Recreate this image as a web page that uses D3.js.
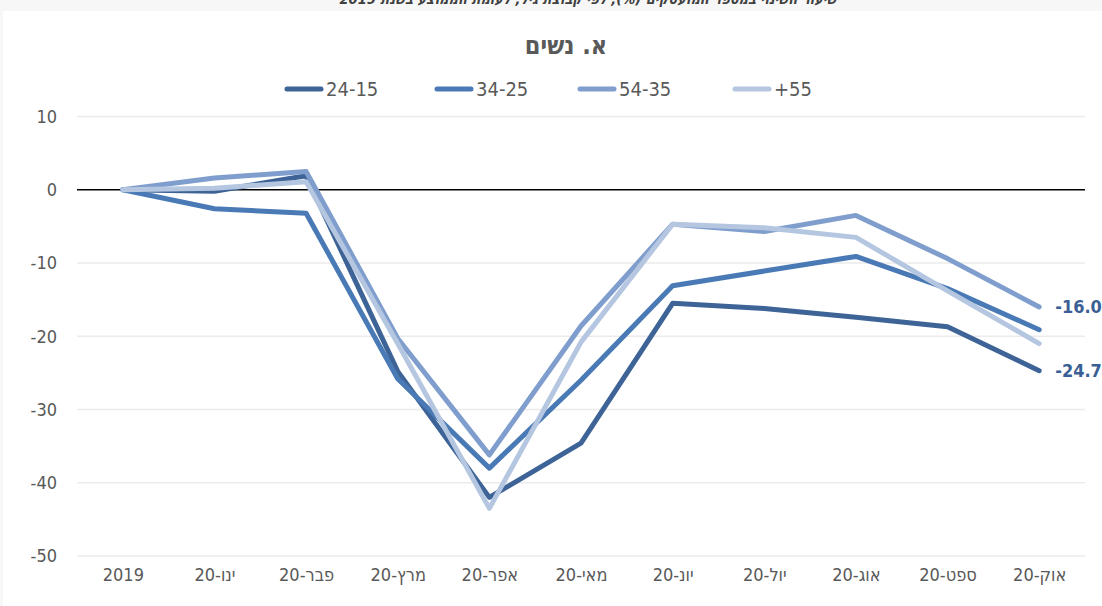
<!DOCTYPE html>
<html lang="he">
<head>
<meta charset="utf-8">
<script src="https://cdn.jsdelivr.net/npm/d3@7"></script>
<style>
  html, body { margin: 0; padding: 0; background: #f7f7f7; }
  svg { display: block; }
  text { font-family: "DejaVu Sans Condensed", "DejaVu Sans", sans-serif; font-stretch: condensed; }
</style>
</head>
<body>
<svg id="chart" width="1102" height="606"></svg>
<script>
// ---- data ----
const categories = ["2019", "ינו-20", "פבר-20", "מרץ-20", "אפר-20", "מאי-20", "יונ-20", "יול-20", "אוג-20", "ספט-20", "אוק-20"];
const seriesNames = ["24-15", "34-25", "54-35", "+55"];
const age15_24 = [0, -0.2, 1.9, -24.8, -42.0, -34.6, -15.5, -16.2, -17.4, -18.7, -24.7];
const age25_34 = [0, -2.6, -3.2, -25.8, -38.0, -26.0, -13.1, -11.1, -9.1, -13.5, -19.1];
const age35_54 = [0, 1.6, 2.5, -20.3, -36.2, -18.6, -4.7, -5.7, -3.5, -9.4, -16.0];
const age55plus = [0, 0.2, 1.1, -21.0, -43.5, -20.8, -4.7, -5.2, -6.5, -13.8, -21.0];
const yTicks = [10, 0, -10, -20, -30, -40, -50];
const endLabels = [{ series: 2, text: "-16.0" }, { series: 0, text: "-24.7" }];
const chartTitle = "א. נשים";
const pageHeading = "שיעור השינוי במספר המועסקים (%), לפי קבוצת גיל, לעומת הממוצע בשנת 2019";

const allSeries = [age15_24, age25_34, age35_54, age55plus];
const colors = ["#3e6497", "#4a7ab5", "#7f9ecd", "#b5c6e1"];

// ---- layout ----
const svg = d3.select("#chart");
const W = 1102, H = 606;
const plot = { left: 77, right: 1085, top: 116.5, bottom: 556 };

svg.append("rect").attr("x", 3).attr("y", 11).attr("width", W - 3).attr("height", H - 11).attr("fill", "#ffffff");

// heading from the page above (clipped at the top edge as in the reference)
svg.append("text")
  .attr("x", 588).attr("y", 4)
  .attr("text-anchor", "middle")
  .attr("direction", "rtl")
  .attr("font-size", 14.5).attr("font-weight", "bold").attr("font-style", "italic")
  .attr("fill", "#404040")
  .text(pageHeading);

const x = d3.scalePoint().domain(categories).range([plot.left, plot.right]).padding(0.5);
const y = d3.scaleLinear().domain([-50, 10]).range([plot.bottom, plot.top]);

// gridlines
svg.append("g").selectAll("line").data(yTicks.filter(d => d !== 0)).join("line")
  .attr("x1", plot.left).attr("x2", plot.right)
  .attr("y1", d => y(d)).attr("y2", d => y(d))
  .attr("stroke", "#ebebeb").attr("stroke-width", 1.5);

// y axis labels
const yAxis = d3.axisLeft(y).tickValues(yTicks).tickSize(0).tickPadding(0).tickFormat(d => String(d));
const gy = svg.append("g").attr("transform", `translate(${57},0)`).call(yAxis);
gy.select(".domain").remove();
gy.selectAll("text").attr("font-size", 18).attr("fill", "#595959")
  .attr("font-family", null);

// x axis labels
const xAxis = d3.axisBottom(x).tickSize(0).tickPadding(0);
const gx = svg.append("g").attr("transform", `translate(0,${568})`).call(xAxis);
gx.select(".domain").remove();
gx.selectAll("text").attr("font-size", 18).attr("fill", "#595959")
  .attr("direction", "rtl")
  .attr("font-family", null);

// zero line
svg.append("line")
  .attr("x1", plot.left).attr("x2", plot.right)
  .attr("y1", y(0)).attr("y2", y(0))
  .attr("stroke", "#000000").attr("stroke-width", 1.5);

// lines
const line = d3.line().x((d, i) => x(categories[i])).y(d => y(d));
svg.append("g").selectAll("path").data(allSeries).join("path")
  .attr("d", d => line(d))
  .attr("fill", "none")
  .attr("stroke", (d, i) => colors[i])
  .attr("stroke-width", 5)
  .attr("stroke-linejoin", "round")
  .attr("stroke-linecap", "round");

// end labels
svg.append("g").selectAll("text").data(endLabels).join("text")
  .attr("x", x(categories[categories.length - 1]) + 16)
  .attr("y", d => y(allSeries[d.series][categories.length - 1]))
  .attr("dy", "0.35em")
  .attr("font-size", 18).attr("font-weight", "bold")
  .attr("fill", "#3a5f94")
  .text(d => d.text);

// title
svg.append("text")
  .attr("x", 566).attr("y", 54)
  .attr("text-anchor", "middle")
  .attr("direction", "rtl")
  .attr("font-size", 25).attr("font-weight", "bold")
  .attr("fill", "#595959")
  .text(chartTitle);

// legend
const legendX = [285, 435, 578, 733];
const legendY = 89;
const lg = svg.append("g").selectAll("g").data(seriesNames).join("g")
  .attr("transform", (d, i) => `translate(${legendX[i]},${legendY})`);
lg.append("line").attr("x1", 2).attr("x2", 36).attr("y1", 0).attr("y2", 0)
  .attr("stroke", (d, i) => colors[i]).attr("stroke-width", 5).attr("stroke-linecap", "round");
lg.append("text").attr("x", 41).attr("dy", "0.35em")
  .attr("font-size", 20).attr("fill", "#595959")
  .text(d => d);
</script>
</body>
</html>
